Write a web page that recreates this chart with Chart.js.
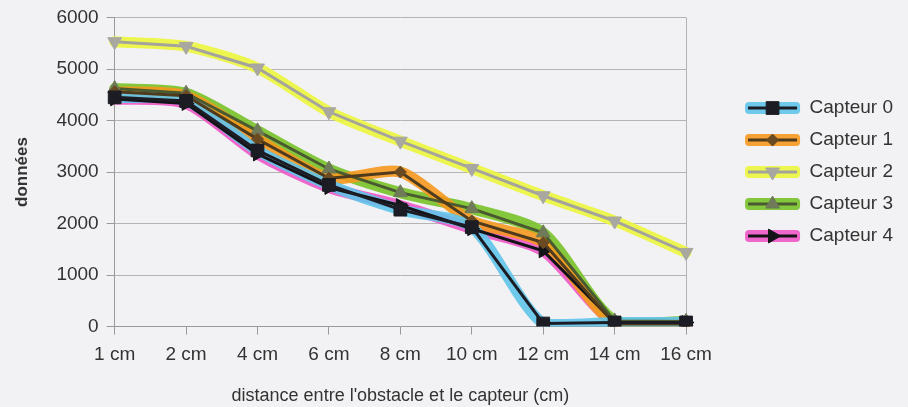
<!DOCTYPE html>
<html><head><meta charset="utf-8">
<script src="https://cdn.jsdelivr.net/npm/chart.js@4.4.1/dist/chart.umd.min.js"></script>
<style>html,body{margin:0;padding:0;background:#f2f2f4;}#wrap{width:908px;height:407px;position:relative;}</style>
</head><body><div id="wrap"><canvas id="c" width="908" height="407"></canvas></div>
<script>
// ---- data ----
const categories = ['1 cm','2 cm','4 cm','6 cm','8 cm','10 cm','12 cm','14 cm','16 cm'];
const seriesNames = ['Capteur 0','Capteur 1','Capteur 2','Capteur 3','Capteur 4'];
const capteur0 = [4450, 4380, 3420, 2750, 2270, 1930, 60, 80, 80];
const capteur1 = [4560, 4480, 3640, 2880, 3000, 2050, 1630, 50, 50];
const capteur2 = [5530, 5440, 5020, 4170, 3600, 3070, 2540, 2050, 1440];
const capteur3 = [4620, 4530, 3800, 3060, 2600, 2290, 1820, 110, 100];
const capteur4 = [4420, 4330, 3350, 2700, 2350, 1900, 1470, 80, 80];
const yTicks = [0, 1000, 2000, 3000, 4000, 5000, 6000];
const xTitle = "distance entre l'obstacle et le capteur (cm)";
const yTitle = 'données';

// ---- styles ----
const seriesValues = [capteur0, capteur1, capteur2, capteur3, capteur4];
const highlightColors = ['rgba(96,196,234,0.9)','rgba(245,152,30,0.9)','rgba(236,246,60,0.9)','rgba(120,194,40,0.9)','rgba(240,88,200,0.9)'];
const lineColors = ['#1c1c24','#4e3a1c','#a4a49c','#4a5a30','#141418'];
const markerFill = ['#1c1c24','#6a4a20','#a8a8a0','#6e7a58','#141418'];
const markerStyle = ['rect','rectRot','triangle','triangle','triangle'];
const markerRot = [0,0,180,0,90];
const markerRadius = [9,6,8,8,8];
const FONT = "'Liberation Sans', Arial, sans-serif";

const datasets = [];
seriesNames.forEach((n,i)=>{
  datasets.push({
    label:n, data:seriesValues[i], borderColor:lineColors[i], borderWidth:3,
    pointStyle:markerStyle[i], rotation:markerRot[i], pointRadius:markerRadius[i],
    pointBackgroundColor:markerFill[i], pointBorderColor:markerFill[i], pointBorderWidth:1,
    tension:0, fill:false
  });
});
seriesNames.forEach((n,i)=>{
  datasets.push({
    label:n+' (surligné)', data:seriesValues[i], borderColor:highlightColors[i], borderWidth:11,
    pointRadius:0, tension:0.25, borderCapStyle:'round', borderJoinStyle:'round', fill:false
  });
});

const BOXW = 101, SAMPLEW = 55;
const legendSamples = {
  id:'legendSamples',
  afterDraw(chart){
    const lg = chart.legend; if(!lg || !lg.legendHitBoxes) return;
    const ctx = chart.ctx;
    lg.legendItems.forEach((item,k)=>{
      const hb = lg.legendHitBoxes[k]; const i = item.datasetIndex;
      const x1 = hb.left + BOXW, x0 = x1 - SAMPLEW, y = hb.top + hb.height/2;
      ctx.save();
      ctx.fillStyle = highlightColors[i];
      ctx.beginPath();
      if (ctx.roundRect) ctx.roundRect(x0, y-6, SAMPLEW, 12, 4); else ctx.rect(x0, y-6, SAMPLEW, 12);
      ctx.fill();
      ctx.strokeStyle = lineColors[i]; ctx.lineWidth = 3;
      ctx.beginPath(); ctx.moveTo(x0+3, y); ctx.lineTo(x1-3, y); ctx.stroke();
      ctx.fillStyle = markerFill[i]; ctx.strokeStyle = markerFill[i]; ctx.lineWidth = 1;
      Chart.helpers.drawPoint(ctx, {pointStyle:markerStyle[i], rotation:markerRot[i], radius:markerRadius[i], borderWidth:1}, (x0+x1)/2, y);
      ctx.restore();
    });
  }
};

new Chart(document.getElementById('c'), {
  type:'line',
  data:{labels:categories, datasets},
  options:{
    responsive:false, animation:false,
    layout:{padding:{left:4, top:4, right:5, bottom:0}},
    plugins:{
      tooltip:{enabled:false},
      legend:{
        position:'right', fullSize:false, align:'center',
        labels:{
          boxWidth:BOXW, boxHeight:19, padding:13, color:'#333', font:{family:FONT, size:19},
          generateLabels(chart){
            return seriesNames.map((n,i)=>({text:n, datasetIndex:i, fillStyle:'rgba(0,0,0,0)', strokeStyle:'rgba(0,0,0,0)', lineWidth:0, hidden:false, fontColor:'#333'}));
          }
        }
      }
    },
    scales:{
      x:{
        offset:false,
        grid:{display:true, drawOnChartArea:true, drawTicks:true, tickLength:8,
          color:(c)=> c.index === categories.length-1 ? '#b4b4b4' : 'rgba(0,0,0,0)', tickColor:'#9a9a9a'},
        border:{color:'#9a9a9a'},
        ticks:{color:'#333', font:{family:FONT, size:19}, padding:9, maxRotation:0, autoSkip:false},
        title:{display:true, text:xTitle, color:'#333', font:{family:FONT, size:18}, padding:{top:10, bottom:0}}
      },
      y:{
        min:0, max:6000,
        afterBuildTicks:(s)=>{ s.ticks = yTicks.map(v=>({value:v})); },
        ticks:{color:'#333', font:{family:FONT, size:19, lineHeight:1}, padding:8, callback:(v)=>String(v)},
        grid:{color:'#b4b4b4', tickLength:8, tickColor:'#9a9a9a'},
        border:{color:'#9a9a9a'},
        title:{display:true, text:yTitle, color:'#333', font:{family:FONT, size:17, weight:'bold'}, padding:{top:8, bottom:16}}
      }
    }
  },
  plugins:[legendSamples]
});
</script>
</body></html>
